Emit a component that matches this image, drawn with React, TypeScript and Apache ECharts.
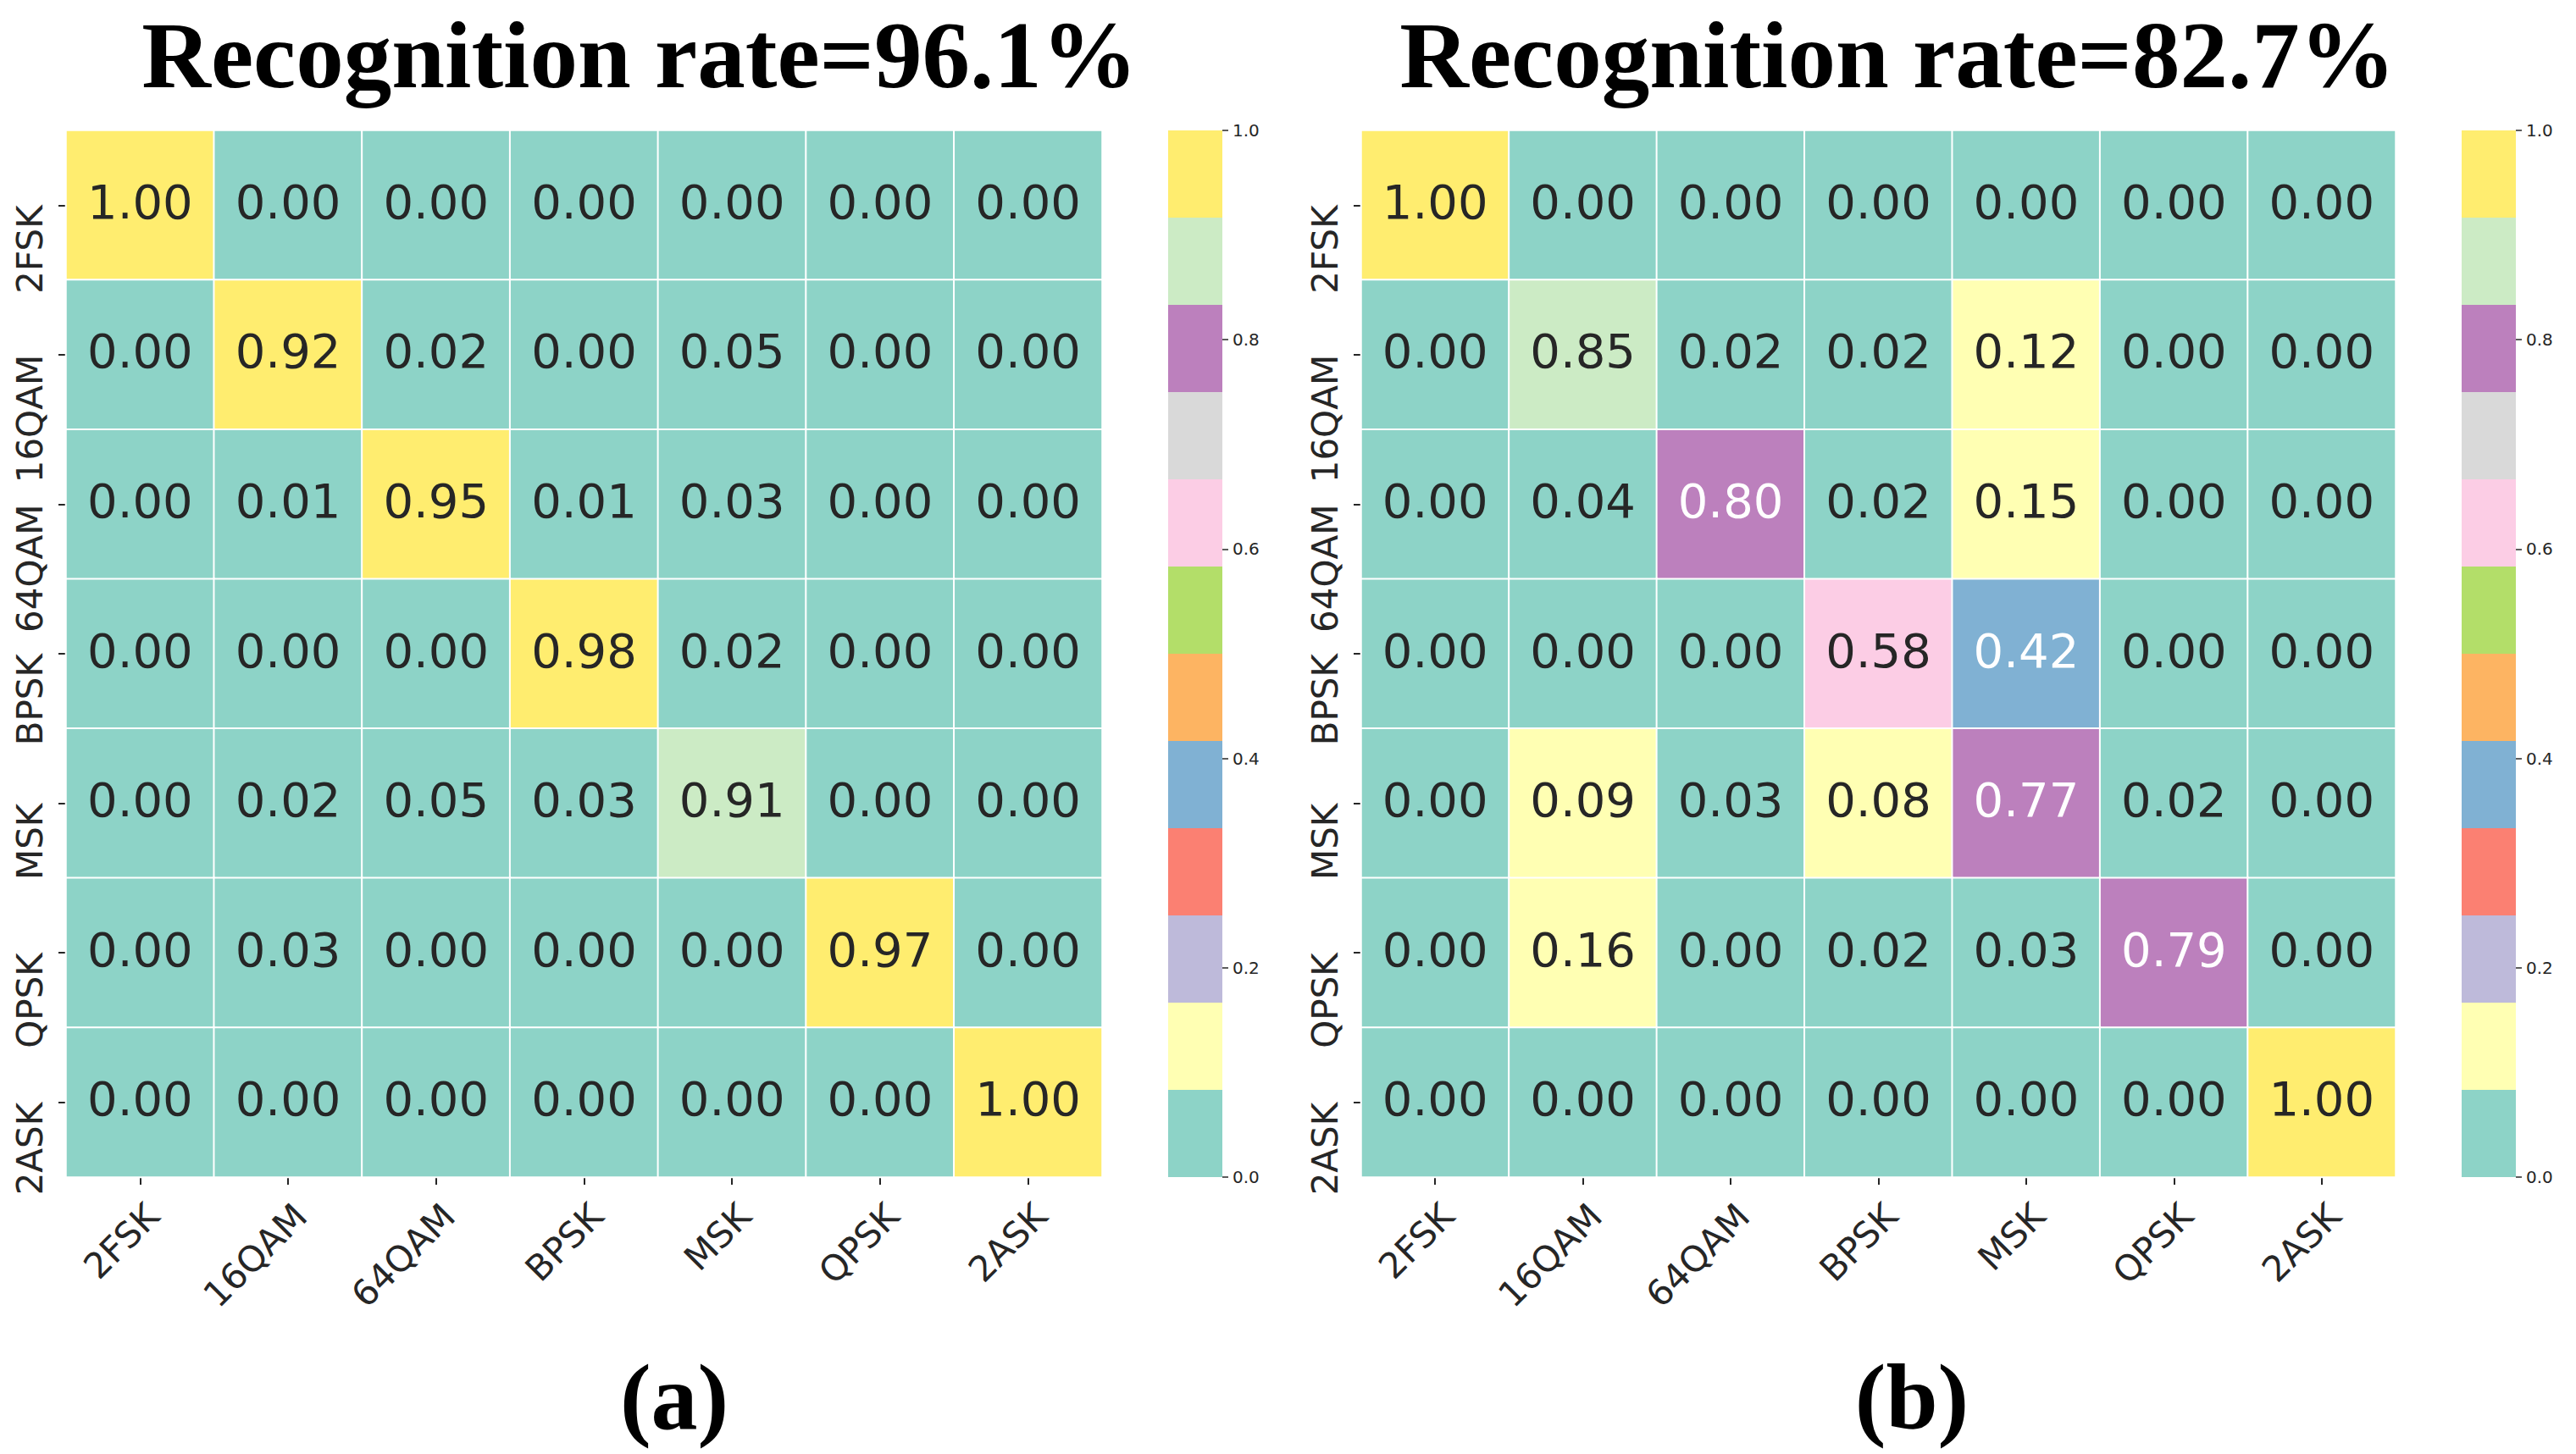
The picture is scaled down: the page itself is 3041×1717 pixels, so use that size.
import React, { useEffect, useRef } from "react";
import * as echarts from "echarts";

const CLASSES = ["2FSK", "16QAM", "64QAM", "BPSK", "MSK", "QPSK", "2ASK"];

// rows = true class (top to bottom), columns = predicted class
const MATRIX_A = [
  [1.0, 0.0, 0.0, 0.0, 0.0, 0.0, 0.0],
  [0.0, 0.92, 0.02, 0.0, 0.05, 0.0, 0.0],
  [0.0, 0.01, 0.95, 0.01, 0.03, 0.0, 0.0],
  [0.0, 0.0, 0.0, 0.98, 0.02, 0.0, 0.0],
  [0.0, 0.02, 0.05, 0.03, 0.91, 0.0, 0.0],
  [0.0, 0.03, 0.0, 0.0, 0.0, 0.97, 0.0],
  [0.0, 0.0, 0.0, 0.0, 0.0, 0.0, 1.0],
];

const MATRIX_B = [
  [1.0, 0.0, 0.0, 0.0, 0.0, 0.0, 0.0],
  [0.0, 0.85, 0.02, 0.02, 0.12, 0.0, 0.0],
  [0.0, 0.04, 0.8, 0.02, 0.15, 0.0, 0.0],
  [0.0, 0.0, 0.0, 0.584, 0.416, 0.0, 0.0],
  [0.0, 0.09, 0.03, 0.084, 0.77, 0.02, 0.0],
  [0.0, 0.16, 0.0, 0.02, 0.03, 0.79, 0.0],
  [0.0, 0.0, 0.0, 0.0, 0.0, 0.0, 1.0],
];

const TITLE_A = "Recognition rate=96.1%";
const TITLE_B = "Recognition rate=82.7%";
const CAPTION_A = "(a)";
const CAPTION_B = "(b)";

// matplotlib "Set3" colormap, 12 discrete colours over [0, 1]
const SET3 = [
  "#8dd3c7", "#ffffb3", "#bebada", "#fb8072", "#80b1d3", "#fdb462",
  "#b3de69", "#fccde5", "#d9d9d9", "#bc80bd", "#ccebc5", "#ffed6f",
];
const CBAR_MIN = 0;
const CBAR_MAX = 1;
const CBAR_STEP = 0.2;

const TEXT_DARK = "#262626";

function colorFor(v: number): string {
  const idx = Math.min(SET3.length - 1, Math.max(0, Math.floor(((v - CBAR_MIN) / (CBAR_MAX - CBAR_MIN)) * SET3.length)));
  return SET3[idx];
}

function luminance(hex: string): number {
  const c = [1, 3, 5].map((i) => parseInt(hex.slice(i, i + 2), 16) / 255);
  const lin = c.map((x) => (x <= 0.03928 ? x / 12.92 : Math.pow((x + 0.055) / 1.055, 2.4)));
  return 0.2126 * lin[0] + 0.7152 * lin[1] + 0.0722 * lin[2];
}

function heatData(m: number[][]) {
  const out: any[] = [];
  m.forEach((row, r) =>
    row.forEach((v, c) => {
      const col = colorFor(v);
      out.push({
        value: [c, r, v],
        label: { color: luminance(col) > 0.408 ? TEXT_DARK : "#ffffff" },
      });
    })
  );
  return out;
}

const FONT = "DejaVu Sans";
const SERIF = "Liberation Serif";

const GRIDS = [
  { left: 78, top: 154, width: 1223, height: 1236 },
  { left: 1379, top: 154, width: 64, height: 1236 },
  { left: 1607, top: 154, width: 1221, height: 1236 },
  { left: 2906, top: 154, width: 64, height: 1236 },
];

function heatXAxis(gridIndex: number) {
  return {
    type: "category",
    gridIndex,
    data: CLASSES,
    position: "bottom",
    axisLine: { show: false },
    axisTick: { show: true, alignWithLabel: true, length: 9, lineStyle: { color: TEXT_DARK, width: 2 } },
    axisLabel: {
      interval: 0,
      rotate: 45,
      align: "right",
      verticalAlign: "top",
      margin: 24,
      fontSize: 42,
      fontFamily: FONT,
      color: TEXT_DARK,
    },
    splitLine: { show: false },
  };
}
function heatYAxis(gridIndex: number) {
  return {
    type: "category",
    gridIndex,
    data: CLASSES,
    inverse: true,
    axisLine: { show: false },
    axisTick: { show: true, alignWithLabel: true, length: 9, lineStyle: { color: TEXT_DARK, width: 2 } },
    axisLabel: {
      interval: 0,
      rotate: 90,
      align: "right",
      margin: 22,
      fontSize: 42,
      fontFamily: FONT,
      color: TEXT_DARK,
    },
    splitLine: { show: false },
  };
}
function cbarXAxis(gridIndex: number) {
  return {
    type: "category",
    gridIndex,
    data: ["cb"],
    show: false,
  };
}
function cbarYAxis(gridIndex: number) {
  return {
    type: "value",
    gridIndex,
    position: "right",
    min: CBAR_MIN,
    max: CBAR_MAX,
    interval: CBAR_STEP,
    axisLine: { show: false },
    axisTick: { show: true, length: 7, lineStyle: { color: TEXT_DARK, width: 1.5 } },
    axisLabel: { margin: 12, fontSize: 20, fontFamily: FONT, color: TEXT_DARK, formatter: (v: number) => v.toFixed(1) },
    splitLine: { show: false },
  };
}

function heatSeries(axisIndex: number, m: number[][]) {
  return {
    type: "heatmap",
    xAxisIndex: axisIndex,
    yAxisIndex: axisIndex,
    data: heatData(m),
    itemStyle: { borderColor: "#ffffff", borderWidth: 2 },
    label: {
      show: true,
      fontSize: 56,
      fontFamily: FONT,
      offset: [0, -4],
      formatter: (p: any) => (p.value[2] as number).toFixed(2),
    },
    emphasis: { disabled: true },
  };
}

function cbarSeries(axisIndex: number) {
  return SET3.map((color, i) => ({
    type: "bar",
    name: `band${axisIndex}_${i}`,
    xAxisIndex: axisIndex,
    yAxisIndex: axisIndex,
    stack: `cb${axisIndex}`,
    barWidth: "100%",
    data: [(CBAR_MAX - CBAR_MIN) / SET3.length],
    itemStyle: { color },
    emphasis: { disabled: true },
    silent: true,
  }));
}

function textEl(text: string, x: number, y: number, size: number) {
  return {
    type: "text",
    x,
    y,
    style: {
      text,
      fill: "#000000",
      font: `bold ${size}px "${SERIF}", "Times New Roman", serif`,
      textAlign: "center",
      textVerticalAlign: "middle",
    },
  };
}

const PIECES = SET3.map((color, i) => {
  const step = (CBAR_MAX - CBAR_MIN) / SET3.length;
  const lo = CBAR_MIN + i * step;
  const hi = CBAR_MIN + (i + 1) * step;
  return i === SET3.length - 1 ? { gte: lo, lte: hi + 1e-9, color } : { gte: lo, lt: hi, color };
});

export default function App() {
  const ref = useRef<HTMLDivElement>(null);
  useEffect(() => {
    document.body.style.margin = "0";
    const chart = echarts.init(ref.current!, undefined, { renderer: "svg" });
    const option: any = {
      animation: false,
      backgroundColor: "#ffffff",
      grid: GRIDS.map((g) => ({ ...g, containLabel: false })),
      xAxis: [heatXAxis(0), cbarXAxis(1), heatXAxis(2), cbarXAxis(3)],
      yAxis: [heatYAxis(0), cbarYAxis(1), heatYAxis(2), cbarYAxis(3)],
      visualMap: {
        type: "piecewise",
        show: false,
        dimension: 2,
        seriesIndex: [0, 1],
        pieces: PIECES,
      },
      series: [heatSeries(0, MATRIX_A), heatSeries(2, MATRIX_B), ...cbarSeries(1), ...cbarSeries(3)],
      graphic: [
        textEl(TITLE_A, 755, 64, 113),
        textEl(TITLE_B, 2240, 64, 113),
        textEl(CAPTION_A, 796, 1650, 110),
        textEl(CAPTION_B, 2257, 1650, 110),
      ],
    };
    chart.setOption(option);
    return () => chart.dispose();
  }, []);
  return (
    <div
      ref={ref}
      style={{ position: "fixed", left: 0, top: 0, width: 3041, height: 1717, background: "#ffffff" }}
    />
  );
}
